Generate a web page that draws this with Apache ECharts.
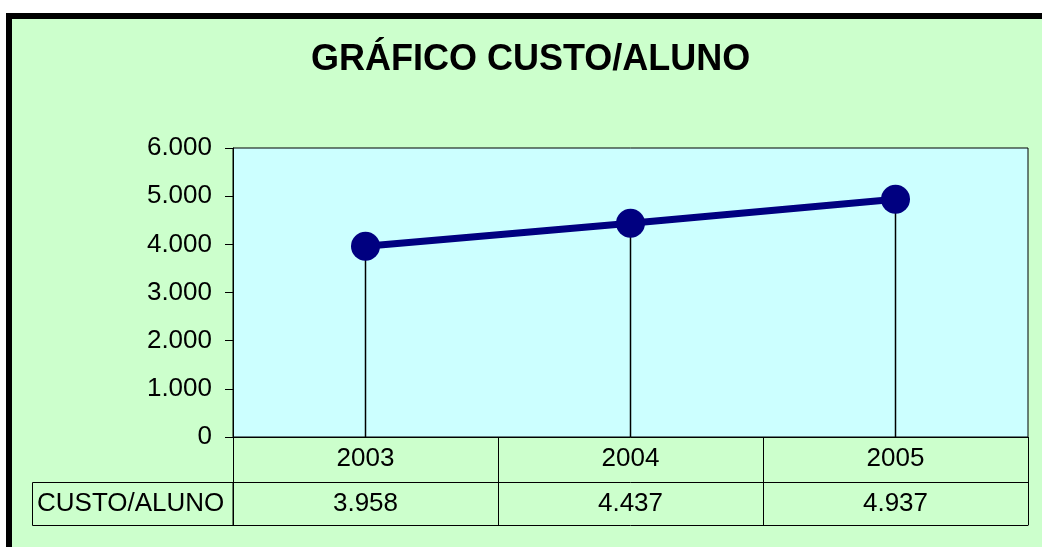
<!DOCTYPE html>
<html>
<head>
<meta charset="utf-8">
<title>GRÁFICO CUSTO/ALUNO</title>
<script src="https://cdn.jsdelivr.net/npm/echarts@6/dist/echarts.min.js"></script>
<style>
  html, body { margin: 0; padding: 0; background: #fff; }
  #chart { width: 1042px; height: 547px; }
</style>
</head>
<body>
<div id="chart"></div>
<script>
  // dados do gráfico
  var titulo = 'GRÁFICO CUSTO/ALUNO';
  var serieNome = 'CUSTO/ALUNO';
  var anos = ['2003', '2004', '2005'];
  var custoAluno = [3958, 4437, 4937];
  var eixoMin = 0, eixoMax = 6000, eixoPasso = 1000;

  var fonte = '"Liberation Sans", Arial, sans-serif';

  // 4937 -> "4.937"
  function milhar(v) {
    return String(v).replace(/\B(?=(\d{3})+(?!\d))/g, '.');
  }

  var myChart = echarts.init(document.getElementById('chart'));

  var option = {
    backgroundColor: '#fff',
    animation: false,
    title: {
      text: titulo,
      left: 311,
      top: 42,
      padding: 0,
      textStyle: {
        fontFamily: fonte,
        fontSize: 36,
        fontWeight: 'bold',
        color: '#000'
      }
    },
    graphic: {
      elements: [
        {
          // moldura externa
          type: 'rect',
          z: -100,
          shape: { x: 9, y: 16, width: 1100, height: 600 },
          style: { fill: '#CCFFCC', stroke: '#000', lineWidth: 6 }
        },
        {
          // célula da legenda da tabela
          type: 'rect',
          z: 10,
          shape: { x: 32.5, y: 482.5, width: 200.5, height: 43 },
          style: { fill: 'none', stroke: '#000', lineWidth: 1 }
        },
        {
          type: 'text',
          z: 10,
          style: {
            text: serieNome,
            x: 37,
            y: 504,
            verticalAlign: 'middle',
            font: '26px ' + fonte,
            fill: '#000'
          }
        }
      ]
    },
    grid: {
      left: 233,
      top: 148,
      right: 14,
      bottom: 110,
      show: true,
      backgroundColor: '#CCFFFF',
      borderColor: '#000',
      borderWidth: 1
    },
    xAxis: [
      {
        type: 'category',
        data: anos,
        boundaryGap: true,
        axisLine: { show: true, lineStyle: { color: '#000', width: 1 } },
        axisTick: { show: true, length: 88, interval: 0, lineStyle: { color: '#000', width: 1 } },
        axisLabel: { margin: 9, color: '#000', fontFamily: fonte, fontSize: 26, interval: 0 },
        splitLine: { show: false }
      },
      {
        type: 'category',
        data: custoAluno.map(milhar),
        position: 'bottom',
        offset: 45,
        axisLine: { show: true, lineStyle: { color: '#000', width: 1 } },
        axisTick: { show: false },
        axisLabel: { margin: 9, color: '#000', fontFamily: fonte, fontSize: 26, interval: 0 },
        splitLine: { show: false }
      },
      {
        type: 'category',
        data: anos,
        position: 'bottom',
        offset: 88,
        axisLine: { show: true, lineStyle: { color: '#000', width: 1 } },
        axisTick: { show: false },
        axisLabel: { show: false },
        splitLine: { show: false }
      }
    ],
    yAxis: {
      type: 'value',
      min: eixoMin,
      max: eixoMax,
      interval: eixoPasso,
      axisLine: { show: true, lineStyle: { color: '#000', width: 1 } },
      axisTick: { show: true, length: 8, lineStyle: { color: '#000' } },
      axisLabel: {
        margin: 21,
        color: '#000',
        fontFamily: fonte,
        fontSize: 26,
        formatter: function (v) { return milhar(v); }
      },
      splitLine: { show: false }
    },
    series: [
      {
        // linhas de queda até o eixo
        name: 'queda',
        type: 'bar',
        barWidth: 1.5,
        data: custoAluno,
        itemStyle: { color: '#000' },
        z: 2,
        silent: true
      },
      {
        name: serieNome,
        type: 'line',
        data: custoAluno,
        symbol: 'circle',
        symbolSize: 29,
        lineStyle: { color: '#000080', width: 7 },
        itemStyle: { color: '#000080' },
        z: 5
      }
    ]
  };

  myChart.setOption(option);
  window.addEventListener('resize', function () {
    myChart.resize();
  });
</script>
</body>
</html>
